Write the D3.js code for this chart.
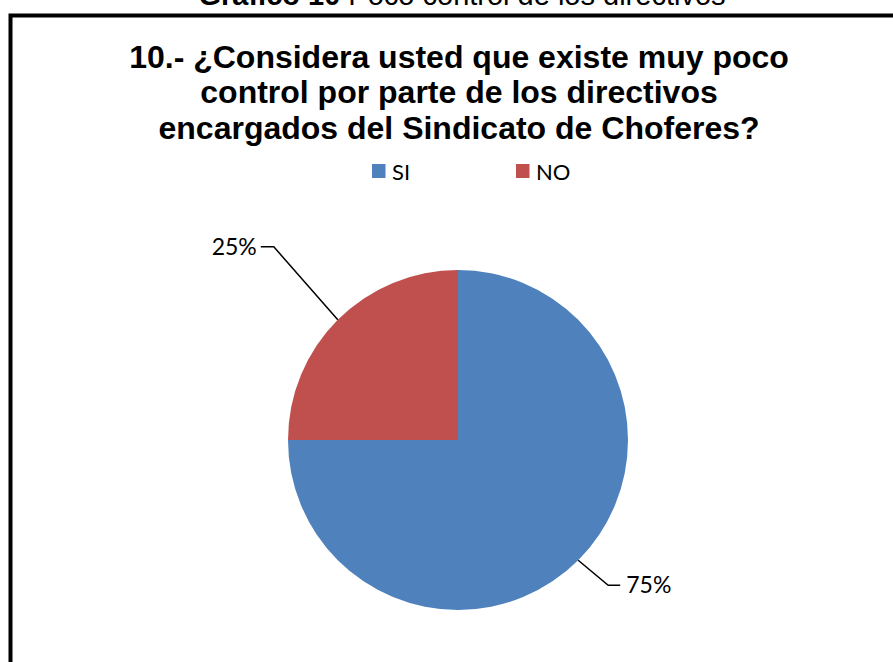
<!DOCTYPE html>
<html><head><meta charset="utf-8">
<script src="https://cdn.jsdelivr.net/npm/d3@7"></script>
<style>body{margin:0;background:#fff}svg{display:block}</style>
</head><body>
<script>
const categories = ["SI", "NO"];
const values = [75, 25];
const colors = ["#4F81BD", "#C0504D"];
const titleLines = ["10.- ¿Considera usted que existe muy poco", "control por parte de los directivos", "encargados del Sindicato de Choferes?"];
const captionBold = "Gráfico 10";
const captionRest = " Poco control de los directivos";

const W = 893, H = 662;
const svg = d3.select("body").append("svg").attr("width", W).attr("height", H);

// caption (cut off at top, as in the source)
const cap = svg.append("text").attr("x", 462).attr("y", 4.5).attr("text-anchor", "middle")
  .attr("font-family", "Liberation Sans, Arial, sans-serif").attr("font-size", 29).attr("fill", "#000");
cap.append("tspan").attr("font-weight", "bold").text(captionBold);
cap.append("tspan").text(captionRest);

// chart border
svg.append("rect").attr("x", 10.5).attr("y", 15.5).attr("width", 900).attr("height", 700)
  .attr("fill", "#fff").attr("stroke", "#000").attr("stroke-width", 4);

// title
svg.append("g").selectAll("text").data(titleLines).join("text")
  .attr("x", 459).attr("y", (d, i) => 67.5 + i * 35.5)
  .attr("text-anchor", "middle").attr("font-family", "Liberation Sans, Arial, sans-serif")
  .attr("font-weight", "bold").attr("font-size", 32).attr("fill", "#000").text(d => d);

// legend
const legendX = d3.scalePoint().domain(categories).range([372, 516]);
const lg = svg.append("g").selectAll("g").data(categories).join("g")
  .attr("transform", d => `translate(${legendX(d)},164)`);
lg.append("rect").attr("width", 13.5).attr("height", 14).attr("fill", (d, i) => colors[i]);
lg.append("text").attr("x", 20).attr("y", 16).attr("font-family", "Lato, 'Open Sans', sans-serif")
  .attr("font-size", 22).attr("fill", "#000").text(d => d);

// pie
const cx = 458, cy = 440, r = 170;
const pie = d3.pie().sort(null).value(d => d)(values);
const arc = d3.arc().innerRadius(0).outerRadius(r);
const g = svg.append("g").attr("transform", `translate(${cx},${cy})`);
g.selectAll("path").data(pie).join("path").attr("d", arc).attr("fill", (d, i) => colors[i]);

// labels with leader lines
const total = d3.sum(values);
const labelLayout = [{dx: 30, dy: 25, hx: 12, anchor: "start"}, {dx: -64, dy: -73, hx: -13, anchor: "end"}];
pie.forEach((d, i) => {
  const a = (d.startAngle + d.endAngle) / 2;
  const sx = Math.sin(a) * r, sy = -Math.cos(a) * r;
  const L = labelLayout[i];
  const ex = sx + L.dx, ey = sy + L.dy;
  const hx = ex + L.hx;
  g.append("polyline").attr("points", `${sx},${sy} ${ex},${ey} ${hx},${ey}`)
    .attr("fill", "none").attr("stroke", "#000").attr("stroke-width", 1.5);
  g.append("text").attr("x", hx + (L.anchor === "start" ? 6 : -4)).attr("y", ey + 8)
    .attr("text-anchor", L.anchor).attr("font-family", "Lato, 'Open Sans', sans-serif")
    .attr("font-size", 23).attr("fill", "#000")
    .text(Math.round(d.data / total * 100) + "%");
});
</script>
</body></html>
